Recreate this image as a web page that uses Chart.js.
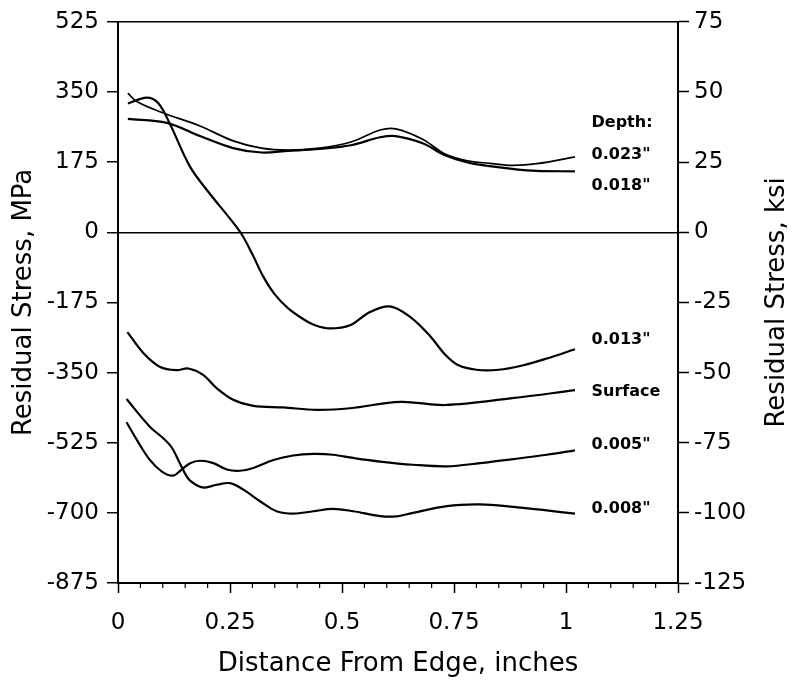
<!DOCTYPE html>
<html><head><meta charset="utf-8">
<script src="https://cdn.jsdelivr.net/npm/chart.js@4/dist/chart.umd.min.js"></script>
<style>html,body{margin:0;padding:0;background:#fff}#wrap{width:793px;height:688px}</style>
</head><body><div id="wrap"><canvas id="c" width="793" height="688"></canvas></div>
<script>
// ---- tick labels ----
const xTickLabels = ['0','0.25','0.5','0.75','1','1.25'];
const mpaTickLabels = ['-875','-700','-525','-350','-175','0','175','350','525'];
const ksiTickLabels = ['-125','-100','-75','-50','-25','0','25','50','75'];

// ---- series (x = inches, y = MPa) ----
const seriesNames = ['0.023"', '0.018"', '0.013"', 'Surface', '0.005"', '0.008"'];

const d023x = [0.022,0.042,0.095,0.183,0.257,0.32,0.38,0.45,0.52,0.585,0.62,0.68,0.73,0.78,0.83,0.88,0.935,1.02];
const d023y = [347,326,300,265,228,210,205,210,225,255,258,232,195,178,172,167,171,188];

const d018x = [0.022,0.109,0.183,0.257,0.32,0.38,0.45,0.52,0.585,0.62,0.68,0.73,0.78,0.83,0.88,0.935,1.02];
const d018y = [283,273,240,210,199,203,208,217,237,240,222,192,174,165,158,153,152];

const d013x = [0.022,0.064,0.09,0.116,0.161,0.205,0.25,0.276,0.3,0.324,0.35,0.38,0.414,0.44,0.473,0.518,0.5625,0.607,0.652,0.696,0.73,0.76,0.8,0.85,0.9,0.957,1.02];
const d013y = [321,336,322,270,163,96,34,-5,-55,-110,-155,-190,-217,-232,-240,-232,-199,-185,-211,-258,-305,-332,-343,-343,-333,-315,-292];

const surfX = [0.021,0.057,0.094,0.131,0.157,0.19,0.22,0.257,0.302,0.369,0.4435,0.518,0.63,0.73,0.88,1.02];
const surfY = [-249,-302,-336,-344,-340,-356,-389,-418,-433,-437,-443,-439,-423,-431,-414,-394];

const d005x = [0.019,0.042,0.071,0.098,0.123,0.142,0.161,0.183,0.213,0.243,0.272,0.302,0.347,0.391,0.436,0.48,0.525,0.585,0.659,0.734,0.808,0.882,0.957,1.02];
const d005y = [-474,-518,-568,-597,-607,-592,-576,-570,-576,-592,-595,-588,-568,-557,-553,-555,-563,-572,-580,-584,-576,-566,-555,-544];

const d008x = [0.019,0.071,0.101,0.12,0.138,0.157,0.179,0.194,0.22,0.25,0.28,0.317,0.354,0.391,0.436,0.48,0.525,0.585,0.62,0.659,0.734,0.808,0.882,0.957,1.02];
const d008y = [-416,-485,-514,-537,-576,-615,-633,-637,-630,-626,-642,-671,-696,-702,-696,-690,-696,-708,-709,-700,-683,-679,-685,-694,-702];

const toPts = (xs, ys) => xs.map((x, i) => ({x: x, y: ys[i]}));

const seriesData = [
  toPts(d023x, d023y), toPts(d018x, d018y), toPts(d013x, d013y),
  toPts(surfX, surfY), toPts(d005x, d005y), toPts(d008x, d008y)
];
const widths = [1.7, 2.2, 2.2, 2.2, 2.2, 2.2];

const FONT = '"DejaVu Sans", "Liberation Sans", Arial, sans-serif';

// annotation labels: [text, y in MPa]
const annot = [['Depth:', 273], ['0.023"', 193], ['0.018"', 117], ['0.013"', -268], ['Surface', -399], ['0.005"', -530], ['0.008"', -690]];

const decor = {
  id: 'decor',
  afterDraw(chart) {
    const ctx = chart.ctx, a = chart.chartArea;
    const xs = chart.scales.x, ys = chart.scales.y;
    ctx.save();
    ctx.strokeStyle = '#000'; ctx.lineWidth = 1.5;
    ctx.beginPath(); ctx.moveTo(a.left, a.top); ctx.lineTo(a.right, a.top); ctx.stroke();
    ctx.lineWidth = 1.2;
    for (let k = 1; k < 25; k++) {
      if (k % 5 === 0) continue;
      const px = xs.getPixelForValue(k * 0.05);
      ctx.beginPath(); ctx.moveTo(px, a.bottom); ctx.lineTo(px, a.bottom + 5); ctx.stroke();
    }
    ctx.fillStyle = '#000';
    ctx.font = 'bold 16px ' + FONT;
    ctx.textAlign = 'left'; ctx.textBaseline = 'middle';
    const lx = xs.getPixelForValue(1.057);
    annot.forEach(([t, v]) => ctx.fillText(t, lx, ys.getPixelForValue(v)));
    ctx.font = '26px ' + FONT;
    ctx.textAlign = 'center';
    ctx.translate(777, (a.top + a.bottom) / 2);
    ctx.rotate(-Math.PI / 2);
    ctx.fillText('Residual Stress, ksi', 0, 0);
    ctx.restore();
  }
};

new Chart(document.getElementById('c'), {
  type: 'line',
  data: {
    datasets: seriesData.map((d, i) => ({
      label: seriesNames[i], data: d, borderColor: '#000', borderWidth: widths[i],
      pointRadius: 0, fill: false, tension: 0.35, yAxisID: 'y'
    }))
  },
  options: {
    responsive: false, animation: false, devicePixelRatio: 1,
    layout: {padding: {top: 20, left: 0, right: 0, bottom: 0}},
    plugins: {legend: {display: false}, tooltip: {enabled: false}},
    scales: {
      x: {
        type: 'linear', min: 0, max: 1.25,
        afterFit: s => { s.height = 105; },
        ticks: {stepSize: 0.25, autoSkip: false, maxRotation: 0, padding: 16, color: '#000',
                font: {family: FONT, size: 23}, callback: (v, i) => xTickLabels[i]},
        grid: {drawOnChartArea: false, drawTicks: true, tickLength: 10, tickColor: '#000', tickWidth: 1.5},
        border: {display: true, color: '#000', width: 2},
        title: {display: true, text: 'Distance From Edge, inches', color: '#000',
                font: {family: FONT, size: 26, lineHeight: 1.2}, padding: {top: 0, bottom: 8}}
      },
      y: {
        type: 'linear', position: 'left', min: -875, max: 525,
        afterFit: s => { s.width = 118; },
        ticks: {stepSize: 175, autoSkip: false, padding: 8, color: '#000',
                font: {family: FONT, size: 23}, callback: (v, i) => mpaTickLabels[i]},
        grid: {drawOnChartArea: true, drawTicks: true, tickLength: 11, tickColor: '#000', tickWidth: 1.5,
               color: c => (c.tick && c.tick.value === 0) ? '#000' : 'rgba(0,0,0,0)', lineWidth: 1.5},
        border: {display: true, color: '#000', width: 2},
        title: {display: true, text: 'Residual Stress, MPa', color: '#000',
                font: {family: FONT, size: 26, lineHeight: 1.2}, padding: {top: 9, bottom: 0}}
      },
      y2: {
        type: 'linear', position: 'right', min: -125, max: 75,
        afterFit: s => { s.width = 115; },
        ticks: {stepSize: 25, autoSkip: false, padding: 5, color: '#000',
                font: {family: FONT, size: 23}, callback: (v, i) => ksiTickLabels[i]},
        grid: {drawOnChartArea: false, drawTicks: true, tickLength: 11, tickColor: '#000', tickWidth: 1.5},
        border: {display: true, color: '#000', width: 2}
      }
    }
  },
  plugins: [decor]
});
</script></body></html>
